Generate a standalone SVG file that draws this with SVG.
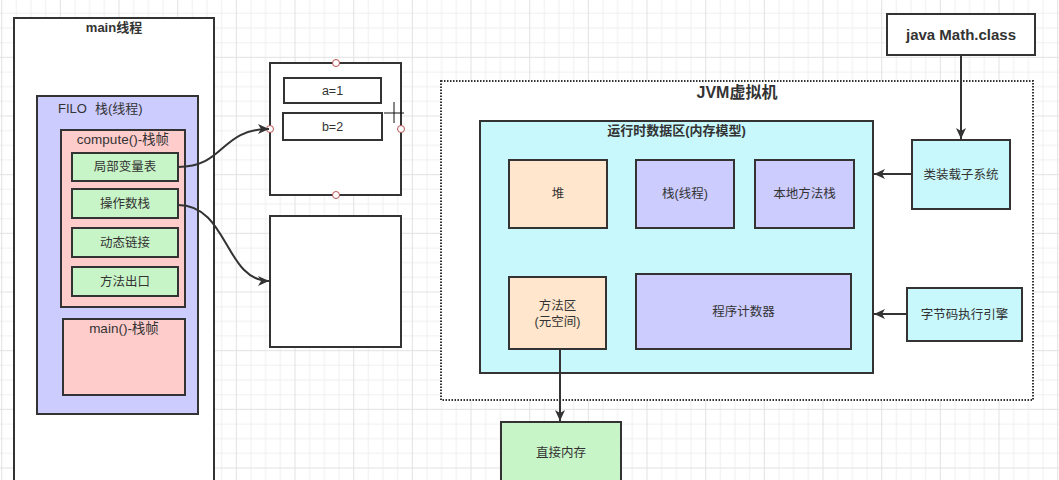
<svg xmlns="http://www.w3.org/2000/svg" width="1059" height="480" viewBox="0 0 1059 480">
<style>
.box{stroke:#333;stroke-width:2}
.t{font-family:"Liberation Sans","Noto Sans CJK SC",sans-serif;fill:#333;text-anchor:middle;dominant-baseline:central}
.n{font-size:12.5px}
.b{font-weight:bold}
.edge{fill:none;stroke:#333;stroke-width:2}
.handle{fill:#fff;stroke:#b85450;stroke-width:1}
</style>
<defs>
<pattern id="grid" patternUnits="userSpaceOnUse" x="1.17" y="-1.83" width="58.667" height="58.667">
<rect x="0" y="0" width="58.667" height="58.667" fill="#fff"/>
<path d="M15.17 0V58.667M29.83 0V58.667M44.5 0V58.667M0 15.17H58.667M0 29.83H58.667M0 44.5H58.667" stroke="#f0f0f0" stroke-width="1"/>
<path d="M0.5 0V58.667M0 0.5H58.667" stroke="#e2e2e2" stroke-width="1"/>
</pattern>
<marker id="arr" markerUnits="userSpaceOnUse" markerWidth="12" markerHeight="10" refX="11" refY="5" orient="auto">
<path d="M0,0 L11,5 L0,10 L3,5 z" fill="#333"/>
</marker>
</defs>
<rect x="0" y="0" width="1059" height="480" fill="url(#grid)"/>

<g id="main-thread">
<rect class="box" x="14" y="18" width="200" height="480" fill="#fff"/>
<text class="t b" x="114" y="27" font-size="13">main线程</text>
</g>
<g id="stack">
<rect class="box" x="37" y="96" width="161" height="318" fill="#ccccff"/>
<text class="t" x="58" y="108" font-size="13" text-anchor="start" style="text-anchor:start">FILO<tspan x="95">栈(线程)</tspan></text>
</g>
<g id="compute-frame">
<rect class="box" x="61" y="130" width="124" height="177" fill="#ffcccc"/>
<text class="t" x="123" y="139" font-size="13.5">compute()-栈帧</text>
</g>
<g id="local-vars">
<rect class="box" x="72" y="153" width="106" height="28" fill="#c8f5c8"/>
<text class="t n" x="125" y="167">局部变量表</text>
</g>
<g id="operand-stack">
<rect class="box" x="72" y="189" width="106" height="29" fill="#c8f5c8"/>
<text class="t n" x="125" y="203.5">操作数栈</text>
</g>
<g id="dynamic-link">
<rect class="box" x="72" y="228" width="106" height="29" fill="#c8f5c8"/>
<text class="t n" x="125" y="242.5">动态链接</text>
</g>
<g id="method-exit">
<rect class="box" x="72" y="267" width="106" height="29" fill="#c8f5c8"/>
<text class="t n" x="125" y="281.5">方法出口</text>
</g>
<g id="main-frame">
<rect class="box" x="63" y="319" width="122" height="76" fill="#ffcccc"/>
<text class="t" x="124" y="328" font-size="13.5">main()-栈帧</text>
</g>

<g id="vars-box">
<rect class="box" x="270" y="63" width="131" height="132" fill="#fff"/>
</g>
<g id="a1">
<rect class="box" x="284" y="78" width="97" height="25" fill="#fff"/>
<text class="t" x="332.5" y="90.5" font-size="12.5">a=1</text>
</g>
<g id="b2">
<rect class="box" x="283" y="113" width="99" height="27" fill="#fff"/>
<text class="t" x="332.5" y="126.5" font-size="12.5">b=2</text>
</g>
<g id="handles">
<circle class="handle" cx="336" cy="63" r="3.5"/>
<circle class="handle" cx="336" cy="195" r="3.5"/>
<circle class="handle" cx="270" cy="129" r="3.5"/>
<circle class="handle" cx="401" cy="129" r="3.5"/>
</g>
<g id="operand-box">
<rect class="box" x="270" y="216" width="131" height="131" fill="#fff"/>
</g>

<g id="jvm">
<rect x="441" y="81" width="592" height="319" fill="#fff" stroke="#333" stroke-width="2" stroke-dasharray="1.5 1.5"/>
<text class="t b" x="737" y="92" font-size="16">JVM虚拟机</text>
</g>
<g id="runtime-area">
<rect class="box" x="480" y="121" width="393" height="252" fill="#c8f8fc"/>
<text class="t b" x="676.5" y="130" font-size="13">运行时数据区(内存模型)</text>
</g>
<g id="heap">
<rect class="box" x="509" y="160" width="98" height="68" fill="#ffe6cc"/>
<text class="t n" x="558" y="194">堆</text>
</g>
<g id="thread-stack">
<rect class="box" x="636" y="160" width="98" height="68" fill="#ccccff"/>
<text class="t n" x="685" y="194">栈(线程)</text>
</g>
<g id="native-stack">
<rect class="box" x="755" y="160" width="99" height="68" fill="#ccccff"/>
<text class="t n" x="804.5" y="194">本地方法栈</text>
</g>
<g id="method-area">
<rect class="box" x="509" y="277" width="97" height="72" fill="#ffe6cc"/>
<text class="t n" x="557.5" y="306">方法区</text>
<text class="t n" x="557.5" y="322">(元空间)</text>
</g>
<g id="pc-register">
<rect class="box" x="636" y="274" width="215" height="75" fill="#ccccff"/>
<text class="t n" x="743.5" y="311.5">程序计数器</text>
</g>
<g id="math-class">
<rect class="box" x="887" y="14" width="148" height="41" fill="#fff"/>
<text class="t b" x="961" y="34.5" font-size="15">java Math.class</text>
</g>
<g id="class-loader">
<rect class="box" x="912" y="140" width="98" height="69" fill="#c8f8fc"/>
<text class="t n" x="961" y="174.5">类装载子系统</text>
</g>
<g id="exec-engine">
<rect class="box" x="907" y="288" width="115" height="53" fill="#c8f8fc"/>
<text class="t n" x="964.5" y="314.5">字节码执行引擎</text>
</g>
<g id="direct-memory">
<rect class="box" x="501" y="422" width="120" height="70" fill="#c8f5c8"/>
<text class="t n" x="561" y="453">直接内存</text>
</g>

<g id="connectors">
<path class="edge" d="M178,167 C225,167 220,129 269,129" marker-end="url(#arr)"/>
<path class="edge" d="M178,205 C228,205 225,281 269,281" marker-end="url(#arr)"/>
<path class="edge" d="M961,55 V139" marker-end="url(#arr)"/>
<path class="edge" d="M912,174 H874" marker-end="url(#arr)"/>
<path class="edge" d="M907,314 H874" marker-end="url(#arr)"/>
<path class="edge" d="M560,349 V421" marker-end="url(#arr)"/>
</g>
<g id="cursor">
<path d="M384,113H404M394,102V123" stroke="#111" stroke-width="1" fill="none"/>
</g>
</svg>
